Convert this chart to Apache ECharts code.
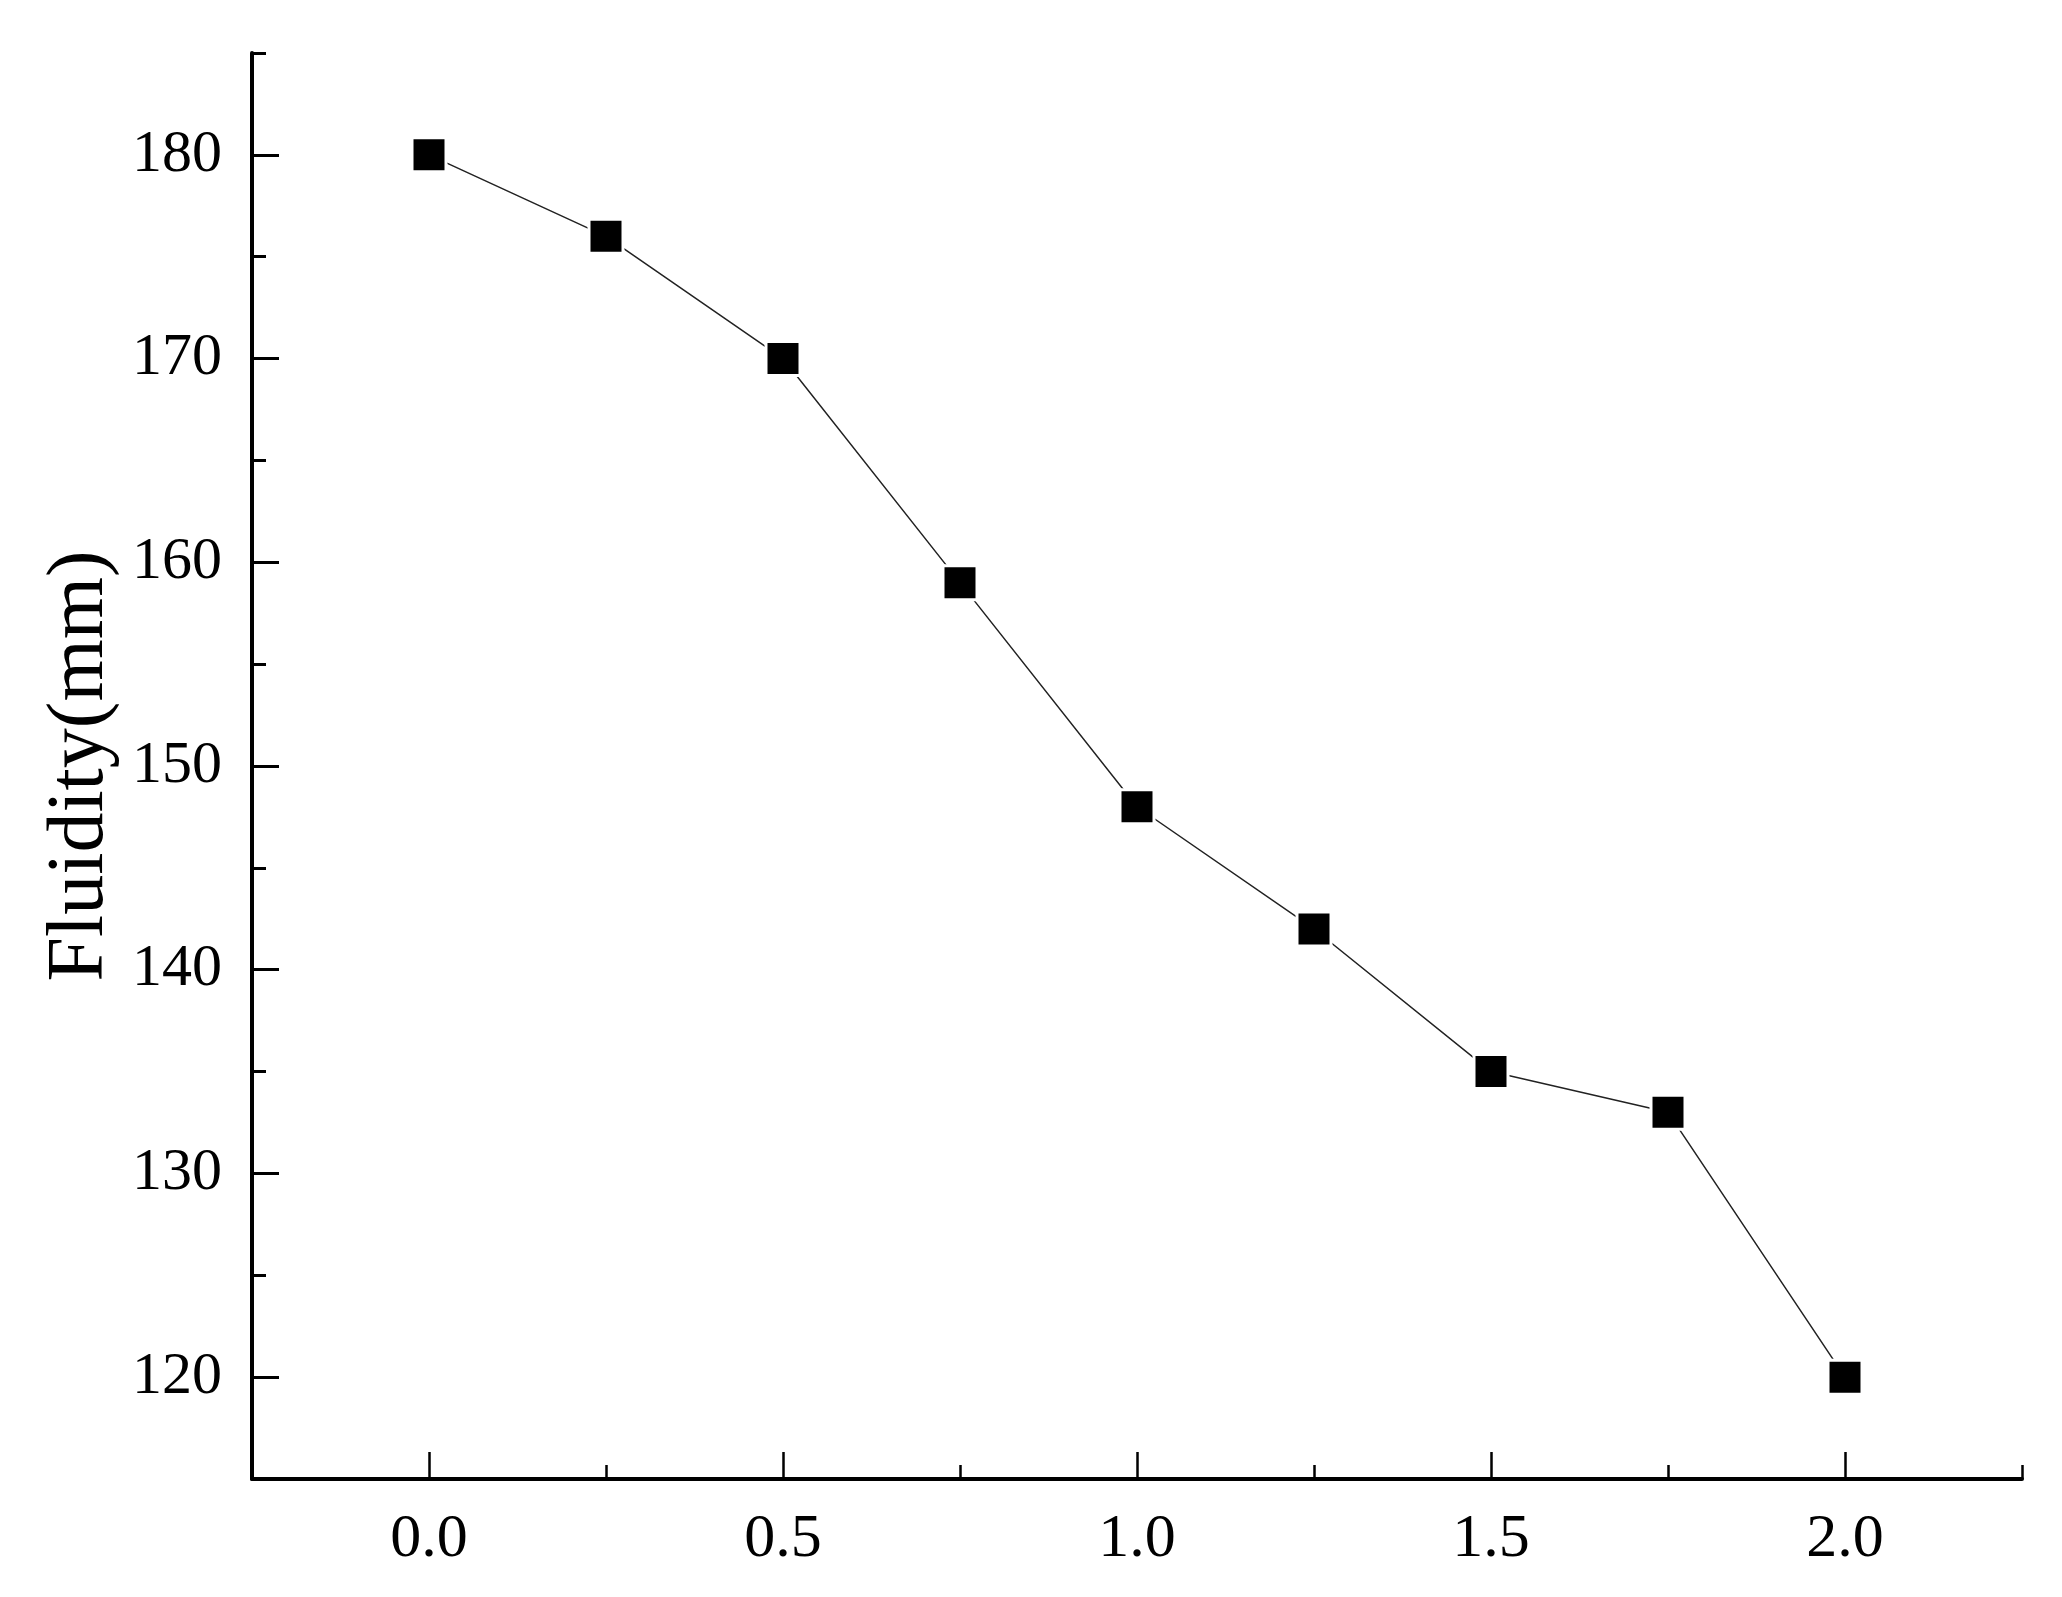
<!DOCTYPE html>
<html><head><meta charset="utf-8">
<script src="https://cdn.jsdelivr.net/npm/echarts@6/dist/echarts.min.js"></script>
<style>html,body{margin:0;padding:0;background:#fff}#c{width:2062px;height:1597px}</style>
</head><body><div id="c"></div>
<script>
const xValues = [0, 0.25, 0.5, 0.75, 1.0, 1.25, 1.5, 1.75, 2.0];
const fluidity = [180, 176, 170, 159, 148, 142, 135, 133, 120];
const xMajorTicks = [0, 0.5, 1.0, 1.5, 2.0];
const xMinorTicks = [0.25, 0.75, 1.25, 1.75, 2.25];
const yMajorTicks = [120, 130, 140, 150, 160, 170, 180];
const yMinorTicks = [125, 135, 145, 155, 165, 175, 185];
const yTitle = 'Fluidity(mm)';

const font = 'Liberation Serif';
const chart = echarts.init(document.getElementById('c'));
chart.setOption({
  animation: false,
  backgroundColor: '#fff',
  grid: { left: 252, right: 40, top: 53, bottom: 118 },
  xAxis: [
    {
      type: 'value', min: -0.25, max: 2.25,
      axisLine: { show: true, onZero: false, lineStyle: { color: '#000', width: 4 } },
      axisTick: { show: true, inside: true, length: 27, customValues: xMajorTicks, lineStyle: { color: '#000', width: 2.5 } },
      axisLabel: { show: true, customValues: xMajorTicks, formatter: v => Number(v).toFixed(1), fontFamily: font, fontSize: 62, color: '#000', margin: 30 },
      splitLine: { show: false }
    },
    {
      type: 'value', min: -0.25, max: 2.25, position: 'bottom', offset: 0,
      axisLine: { show: false, onZero: false },
      axisTick: { show: true, inside: true, length: 14, customValues: xMinorTicks, lineStyle: { color: '#000', width: 2.5 } },
      axisLabel: { show: false },
      splitLine: { show: false }
    }
  ],
  yAxis: [
    {
      type: 'value', min: 115, max: 185,
      name: yTitle, nameLocation: 'middle', nameGap: 130,
      nameTextStyle: { fontFamily: font, fontSize: 80, color: '#000' },
      axisLine: { show: true, onZero: false, lineStyle: { color: '#000', width: 4 } },
      axisTick: { show: true, inside: true, length: 27, customValues: yMajorTicks, lineStyle: { color: '#000', width: 3 } },
      axisLabel: { show: true, customValues: yMajorTicks, fontFamily: font, fontSize: 60, color: '#000', margin: 30 },
      splitLine: { show: false }
    },
    {
      type: 'value', min: 115, max: 185, position: 'left', offset: 0,
      axisLine: { show: false, onZero: false },
      axisTick: { show: true, inside: true, length: 14, customValues: yMinorTicks, lineStyle: { color: '#000', width: 3 } },
      axisLabel: { show: false },
      splitLine: { show: false }
    }
  ],
  series: [{
    type: 'line',
    data: xValues.map((x, i) => [x, fluidity[i]]),
    symbol: 'rect', symbolSize: 34,
    itemStyle: { color: '#000', borderColor: '#fff', borderWidth: 3 },
    lineStyle: { color: '#222', width: 1.5 }
  }]
});
</script></body></html>
